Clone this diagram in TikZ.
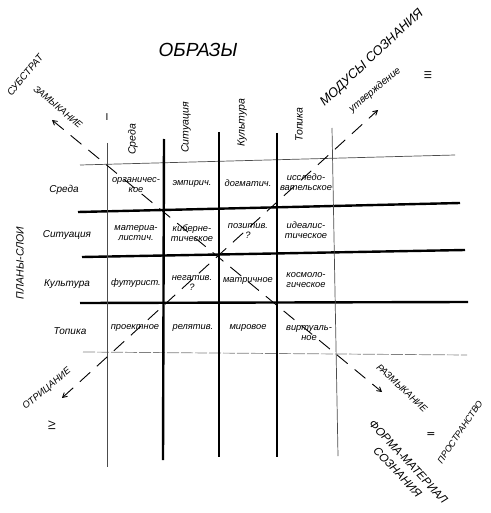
\documentclass[tikz,border=0pt]{standalone}
\usepackage{fontspec}
\setmainfont{Liberation Sans}
\usetikzlibrary{arrows, positioning}

\tikzset{
  thinline/.style={line width=0.7pt, black!70},
  thickline/.style={line width=2.4pt},
  cell/.style={font=\itshape\fontsize{9.3}{10.5}\selectfont, align=center, inner sep=0pt},
  rowlabel/.style={font=\itshape\fontsize{10}{11}\selectfont, inner sep=0pt},
  collabel/.style={font=\itshape\fontsize{10.5}{11}\selectfont, rotate=90, anchor=west, inner sep=0pt},
  caps/.style={font=\itshape\fontsize{#1}{#1}\selectfont, inner sep=0pt, align=center},
  pathdash/.style={line width=0.9pt, dash pattern=on 14pt off 9pt, >=angle 60},
  roman/.style={font=\fontsize{10}{10}\selectfont, inner sep=0pt}
}

\begin{document}
\begin{tikzpicture}[x=1pt, y=-1pt]
        \useasboundingbox (0,0) rectangle (490,513);

        % Grid: rows
        \draw[thinline] (80,165) -- (455,155);
        \draw[thickline] (78,212) -- (460,203);
        \draw[thickline] (82,257) -- (465,250);
        \draw[thickline] (80,303) -- (468,302);
        \draw[thinline, black!50, dash pattern=on 12pt off 2pt] (83,352) -- (467,355);

        % Grid: columns
        \draw[thinline] (107,143) -- (107,467);
        \draw[thickline] (164,139) -- (163,460);
        \draw[thickline] (219,132) -- (219,457);
        \draw[thickline] (277,133) -- (277,457);
        \draw[thinline] (332,128) -- (338,456);

        % Diagonals
        \coordinate (zamyk) at (52,120);
        \coordinate (razmyk) at (382,392);
        \coordinate (otric) at (62,398);
        \coordinate (utverzh) at (378,110);
        \draw[pathdash, <->] (zamyk) -- (razmyk);
        \draw[pathdash, <->] (otric) -- (utverzh);

        % Titles
        \node[caps=19] (obrazy) at (198,50) {ОБРАЗЫ};
        \node[caps=13, rotate=43] (modusy) at (372,58) {МОДУСЫ СОЗНАНИЯ};
        \node[caps=10.5, rotate=90] (plany) at (20,263) {ПЛАНЫ-СЛОИ};
        \node[caps=10, rotate=50] (substrat) at (25,75) {СУБСТРАТ};
        \node[caps=9, rotate=56] (prostr) at (460,432) {ПРОСТРАНСТВО};
        \node[caps=11.5, font=\itshape\fontsize{11.5}{15}\selectfont, rotate=-47] (forma) at (403,467) {ФОРМА-МАТЕРИАЛ\\СОЗНАНИЯ};

        % Path labels
        \node[caps=9.5, rotate=-40] (l-zamyk) at (58,107) {ЗАМЫКАНИЕ};
        \node[caps=10, rotate=40] (l-utverzh) at (375,90) {утверждение};
        \node[caps=9.5, rotate=-43] (l-razmyk) at (402,388) {РАЗМЫКАНИЕ};
        \node[caps=9.5, rotate=40] (l-otric) at (47,389) {ОТРИЦАНИЕ};

        % Quadrants
        \node[roman] (q1) at (107,117) {I};
        \node[roman, rotate=90] (q2) at (431,434) {II};
        \node[roman, rotate=90] (q3) at (428,75) {III};
        \node[roman, rotate=90] (q4) at (52,426) {IV};

        % Column heads
        \node[collabel] (c-sreda) at (133,155) {Среда};
        \node[collabel] (c-situ) at (186,153) {Ситуация};
        \node[collabel] (c-kult) at (242,147) {Культура};
        \node[collabel] (c-topika) at (299,142) {Топика};

        % Row heads
        \node[rowlabel] (r-sreda) at (64,190) {Среда};
        \node[rowlabel] (r-situ) at (67,235) {Ситуация};
        \node[rowlabel] (r-kult) at (67,284) {Культура};
        \node[rowlabel] (r-topika) at (70,331) {Топика};

        % Cells
        \node[cell] (a11) at (136,185) {органичес-\\кое};
        \node[cell] (a12) at (192,184) {эмпирич.};
        \node[cell] (a13) at (248,183) {догматич.};
        \node[cell] (a14) at (306,182) {исследо-\\вательское};

        \node[cell] (a21) at (136,233) {материа-\\листич.};
        \node[cell] (a22) at (192,233) {киберне-\\тическое};
        \node[cell] (a23) at (248,231) {позитив.\\?};
        \node[cell] (a24) at (306,230) {идеалис-\\тическое};

        \node[cell] (a31) at (136,283) {футурист.};
        \node[cell] (a32) at (192,283) {негатив.\\?};
        \node[cell] (a33) at (248,281) {матричное};
        \node[cell] (a34) at (306,280) {космоло-\\гическое};

        \node[cell] (a41) at (135,328) {проектное};
        \node[cell] (a42) at (193,328) {релятив.};
        \node[cell] (a43) at (248,328) {мировое};
        \node[cell] (a44) at (309,333) {виртуаль-\\ное};
      \end{tikzpicture}
\end{document}
